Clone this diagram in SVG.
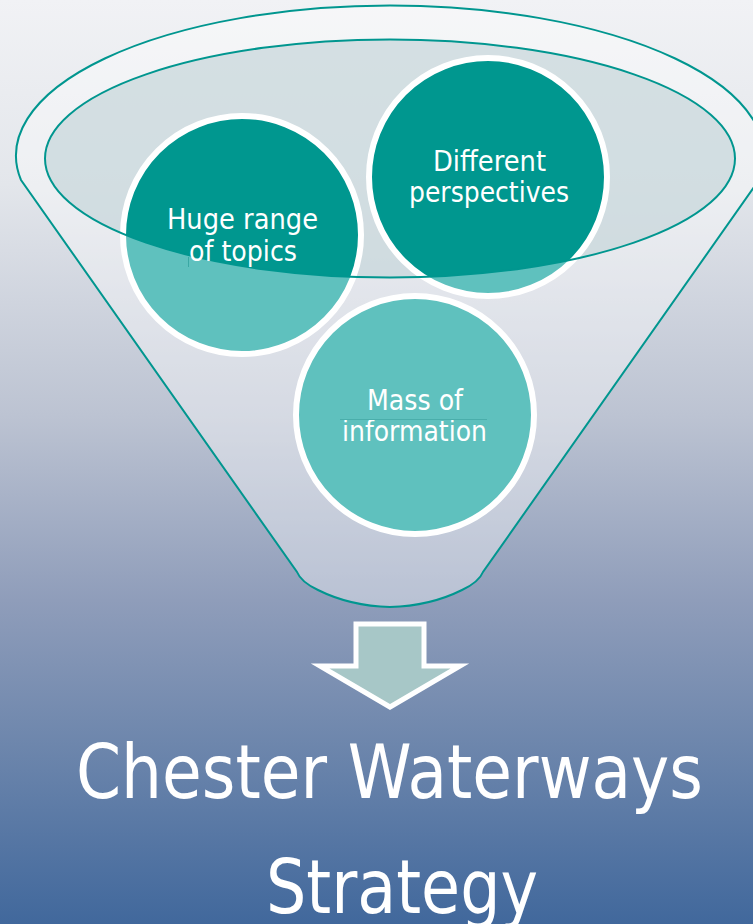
<svg xmlns="http://www.w3.org/2000/svg" width="753" height="924" viewBox="0 0 753 924">
<defs>
<linearGradient id="bg" x1="0" y1="0" x2="0" y2="1">
<stop offset="0" stop-color="#f1f2f5"/>
<stop offset="0.2" stop-color="#e3e6eb"/>
<stop offset="0.45" stop-color="#bcc3d2"/>
<stop offset="0.65" stop-color="#8f9dba"/>
<stop offset="0.82" stop-color="#6a84ab"/>
<stop offset="1" stop-color="#41689c"/>
</linearGradient>
<clipPath id="inner"><ellipse cx="390" cy="158.5" rx="345" ry="119"/></clipPath>
<style>
.edge{fill:none;stroke:#00968f;stroke-width:2}
.lt{fill:#5fc1be}
.dk{fill:#00978f}
.ring{fill:none;stroke:#ffffff;stroke-width:6}
.lbl{font-family:"DejaVu Sans",Verdana,sans-serif;font-size:28px;fill:#ffffff;text-anchor:middle}
.big{font-family:"DejaVu Sans",Verdana,sans-serif;font-size:75px;fill:#ffffff;text-anchor:middle}
</style>
</defs>
<rect width="753" height="924" fill="url(#bg)"/>
<g id="funnel">
<path d="M 21 180 A 374 150 0 1 1 759 180 L 483 572 Q 479 582 462 590 Q 430 606 390 607 Q 350 606 318 590 Q 301 582 297 572 Z" fill="#ffffff" fill-opacity="0.38" stroke="#00968f" stroke-width="2"/>
<ellipse cx="390" cy="158.5" rx="345" ry="119" fill="#c6d6da" fill-opacity="0.7"/>
</g>
<g id="node-topics">
<circle class="lt" cx="242" cy="235" r="119"/>
<circle class="dk" cx="242" cy="235" r="119" clip-path="url(#inner)"/>
<circle class="ring" cx="242" cy="235" r="119"/>
</g>
<g id="node-perspectives">
<circle class="lt" cx="488" cy="177" r="119"/>
<circle class="dk" cx="488" cy="177" r="119" clip-path="url(#inner)"/>
<circle class="ring" cx="488" cy="177" r="119"/>
</g>
<g id="node-information">
<circle class="lt" cx="415" cy="415" r="119"/>
<circle class="ring" cx="415" cy="415" r="119"/>
</g>
<ellipse class="edge" cx="390" cy="158.5" rx="345" ry="119"/>
<g id="labels">
<text class="lbl" x="242.5" y="229" textLength="151" lengthAdjust="spacingAndGlyphs">Huge range</text>
<text class="lbl" x="243" y="261" textLength="108" lengthAdjust="spacingAndGlyphs">of topics</text>
<text class="lbl" x="489.5" y="171" textLength="113" lengthAdjust="spacingAndGlyphs">Different</text>
<text class="lbl" x="489" y="202" textLength="160" lengthAdjust="spacingAndGlyphs">perspectives</text>
<text class="lbl" x="415" y="410" textLength="96" lengthAdjust="spacingAndGlyphs">Mass of</text>
<text class="lbl" x="414.5" y="441" textLength="145" lengthAdjust="spacingAndGlyphs">information</text>
<line x1="340" y1="419.5" x2="487" y2="419.5" stroke="#4aaeab" stroke-width="1"/>
<line x1="188.5" y1="257" x2="188.5" y2="267" stroke="#3aa8a4" stroke-width="1"/>
</g>
<g id="connectors">
<path d="M 356 624 L 424 624 L 424 666 L 460 666 L 390 707 L 320 666 L 356 666 Z" fill="#a7c7c7" stroke="#ffffff" stroke-width="5"/>
</g>
<g id="title">
<text class="big" x="389.5" y="798" textLength="627" lengthAdjust="spacingAndGlyphs">Chester Waterways</text>
<text class="big" x="402" y="913" textLength="272" lengthAdjust="spacingAndGlyphs">Strategy</text>
</g>
</svg>
